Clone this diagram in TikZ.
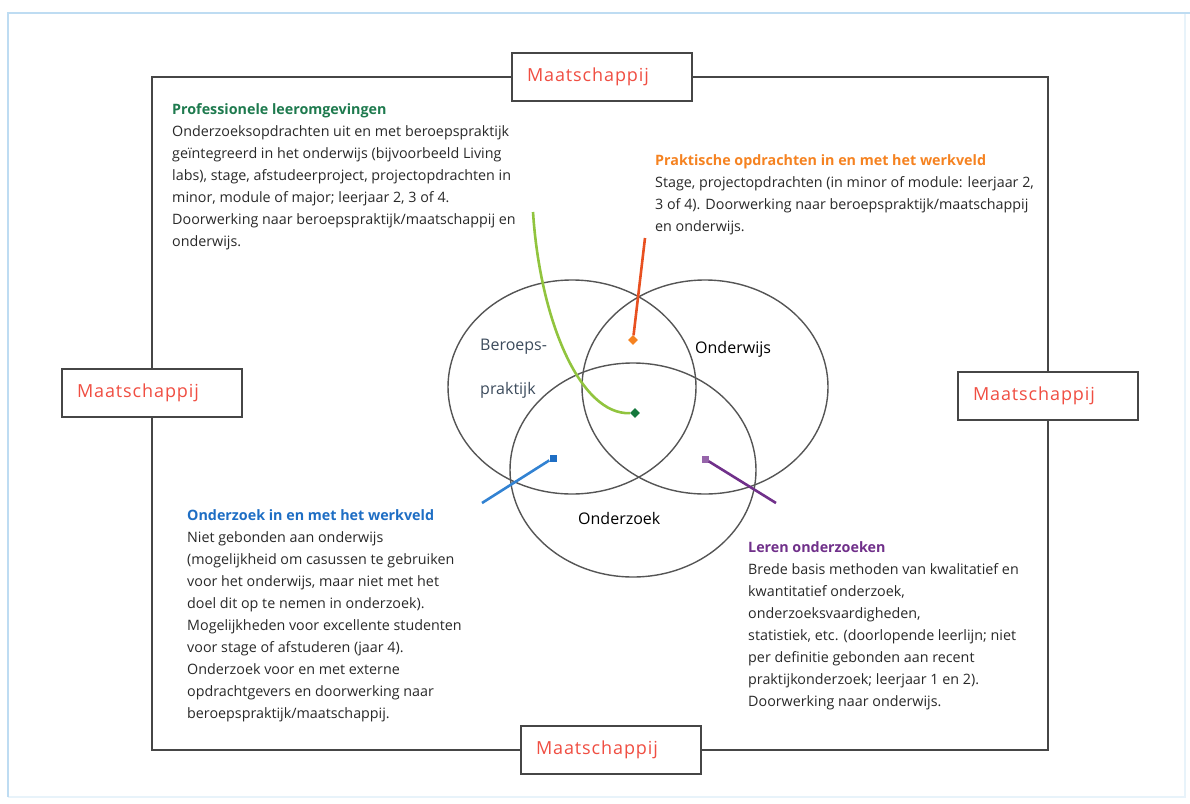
\documentclass[tikz,border=0pt]{standalone}
\usepackage{fontspec}
\setmainfont{Open Sans}
\newfontfamily\maatfont[LetterSpace=5]{Open Sans}
\usetikzlibrary{shapes.geometric}

\definecolor{cirkel}{RGB}{85,85,85}
\definecolor{rand}{RGB}{70,70,70}
\definecolor{lichtblauw}{RGB}{190,220,242}
\definecolor{maatrood}{RGB}{240,78,66}
\definecolor{tekst}{RGB}{40,40,40}
\definecolor{leisteen}{RGB}{60,75,92}
\definecolor{groen}{RGB}{30,122,78}
\definecolor{lichtgroen}{RGB}{145,196,62}
\definecolor{donkergroen}{RGB}{20,120,60}
\definecolor{oranje}{RGB}{245,130,32}
\definecolor{oranjerood}{RGB}{232,80,32}
\definecolor{blauw}{RGB}{30,110,196}
\definecolor{lijnblauw}{RGB}{50,130,210}
\definecolor{paars}{RGB}{112,48,138}
\definecolor{lichtpaars}{RGB}{150,100,170}

\begin{document}
\begin{tikzpicture}[x=1pt,y=-1pt,
  venn/.style={draw=cirkel,line width=1.4pt},
  maat/.style={draw=rand,line width=1.4pt,fill=white,text=maatrood,
    minimum width=180pt,minimum height=48pt,text width=150pt,
    inner xsep=15pt,align=left,font=\maatfont\fontsize{18}{20}\selectfont},
  blok/.style={anchor=north west,inner sep=0pt,align=left,text=tekst,
    font=\fontsize{14.3}{22}\selectfont},
  lijn/.style={line width=2.6pt},
  ruit/.style={diamond,inner sep=0pt,minimum size=10pt},
  blokje/.style={rectangle,inner sep=0pt,minimum size=7pt}]
\useasboundingbox (0,0) rectangle (1190,803);
\draw[lichtblauw!35,line width=1.2pt] (8,797) -- (1185,797) -- (1185,13);
\draw[lichtblauw,line width=1.5pt] (8,797) -- (8,13) -- (1190,13);

\coordinate (cberoeps) at (572,387);
\coordinate (conderwijs) at (705,387);
\coordinate (conderzoek) at (633,470);

\draw[venn] (cberoeps) ellipse [x radius=124pt, y radius=107pt];
\draw[venn] (conderwijs) ellipse [x radius=123pt, y radius=107pt];
\draw[venn] (conderzoek) ellipse [x radius=123pt, y radius=107pt];

\node[anchor=west,inner sep=0pt,text=leisteen,font=\fontsize{16}{18}\selectfont] (beroeps) at (480,347) {Beroeps-};
\node[anchor=west,inner sep=0pt,text=leisteen,font=\fontsize{16}{18}\selectfont] (praktijk) at (480,390) {praktijk};
\node[anchor=west,inner sep=0pt,text=black,font=\fontsize{16}{18}\selectfont] (onderwijs) at (695,349) {Onderwijs};
\node[anchor=west,inner sep=0pt,text=black,font=\fontsize{16}{18}\selectfont] (onderzoek) at (578,518) {Onderzoek};

\node[maat] (mtop) at (602,77) {Maatschappij};
\node[maat] (mlinks) at (152,393) {Maatschappij};
\node[maat] (mrechts) at (1048,396) {Maatschappij};
\node[maat] (monder) at (611,750) {Maatschappij};

\draw[rand,line width=1.4pt] (mtop.east) -| (mrechts.north);
\draw[rand,line width=1.4pt] (mrechts.south) |- (monder.east);
\draw[rand,line width=1.4pt] (monder.west) -| (mlinks.south);
\draw[rand,line width=1.4pt] (mlinks.north) |- (mtop.west);

\node[blok] (prof) at (172,103) {\textcolor{groen}{\textbf{Professionele leeromgevingen}}\\
  Onderzoeksopdrachten uit en met beroepspraktijk\\
  geïntegreerd in het onderwijs (bijvoorbeeld Living\\
  labs), stage, afstudeerproject, projectopdrachten in\\
  minor, module of major; leerjaar 2, 3 of 4.\\
  Doorwerking naar beroepspraktijk/maatschappij en\\
  onderwijs.};
\node[blok] (prak) at (655,154) {\textcolor{oranje}{\textbf{Praktische opdrachten in en met het werkveld}}\\
  Stage, projectopdrachten (in minor of module: leerjaar 2,\\
  3 of 4). Doorwerking naar beroepspraktijk/maatschappij\\
  en onderwijs.};
\node[blok] (werkveld) at (187,509) {\textcolor{blauw}{\textbf{Onderzoek in en met het werkveld}}\\
  Niet gebonden aan onderwijs\\
  (mogelijkheid om casussen te gebruiken\\
  voor het onderwijs, maar niet met het\\
  doel dit op te nemen in onderzoek).\\
  Mogelijkheden voor excellente studenten\\
  voor stage of afstuderen (jaar 4).\\
  Onderzoek voor en met externe\\
  opdrachtgevers en doorwerking naar\\
  beroepspraktijk/maatschappij.};
\node[blok] (leren) at (748,541) {\textcolor{paars}{\textbf{Leren onderzoeken}}\\
  Brede basis methoden van kwalitatief en\\
  kwantitatief onderzoek,\\
  onderzoeksvaardigheden,\\
  statistiek, etc. (doorlopende leerlijn; niet\\
  per definitie gebonden aan recent\\
  praktijkonderzoek; leerjaar 1 en 2).\\
  Doorwerking naar onderwijs.};

\coordinate (groenstart) at (533,212);
\coordinate (oranjestart) at (645,238);
\coordinate (blauwstart) at (482,503);
\coordinate (paarsstart) at (776,503);
\node[ruit,fill=donkergroen] (groeneind) at (635,413) {};
\node[ruit,fill=oranje] (oranjeeind) at (633,340) {};
\node[blokje,fill=blauw] (blauweind) at (553,458) {};
\node[blokje,fill=lichtpaars] (paarseind) at (705,459) {};

\draw[lijn,lichtgroen] (groenstart) .. controls (540,320) and (580,415) .. (groeneind);
\draw[lijn,oranjerood] (oranjestart) -- (oranjeeind);
\draw[lijn,lijnblauw] (blauwstart) -- (blauweind);
\draw[lijn,paars] (paarsstart) -- (paarseind);
\end{tikzpicture}
\end{document}
